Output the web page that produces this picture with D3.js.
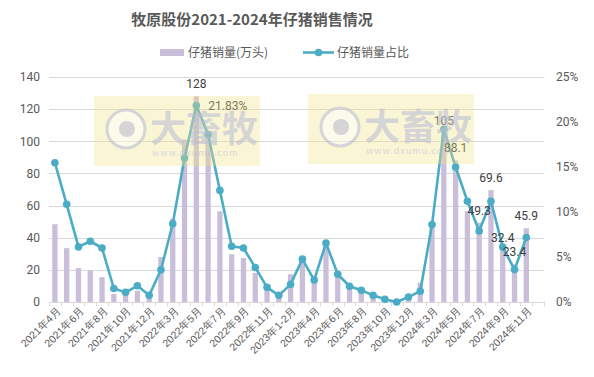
<!DOCTYPE html>
<html lang="zh">
<head>
<meta charset="UTF-8">
<title>牧原股份仔猪销售</title>
<script src="https://d3js.org/d3.v7.min.js"></script>
<style>
    body, html { margin: 0; padding: 0; background: #fff; }
    svg { display: block; font-family: "Noto Sans CJK SC", "Noto Sans", sans-serif; }
</style>
</head>
<body>
<script>
'use strict'

// months (42 slots, the last one has no data)
const months = ['2021年4月','2021年5月','2021年6月','2021年7月','2021年8月','2021年9月','2021年10月','2021年11月','2021年12月',
    '2022年1-2月','2022年3月','2022年4月','2022年5月','2022年6月','2022年7月','2022年8月','2022年9月','2022年10月','2022年11月','2022年12月',
    '2023年1-2月','2023年3月','2023年4月','2023年5月','2023年6月','2023年7月','2023年8月','2023年9月','2023年10月','2023年11月','2023年12月',
    '2024年1-2月','2024年3月','2024年4月','2024年5月','2024年6月','2024年7月','2024年8月','2024年9月','2024年10月','2024年11月','2024年12月']

// 仔猪销量 (万头)
const volume = [48.4, 33.5, 21.1, 19.8, 15.5, 5.0, 4.5, 7.0, 2.5,
    28.0, 51.8, 101, 128, 103, 56.5, 29.7, 27.4, 18.1, 9.2, 3.5,
    17.3, 24.1, 13.8, 34.4, 16.5, 9.2, 6.5, 3.4, 1.2, 0.6, 1.5,
    12.0, 48.3, 105, 88.1, 56.5, 49.3, 69.6, 32.4, 23.4, 45.9, null]

// 仔猪销量占比 (%)
const share = [15.47, 10.85, 6.12, 6.75, 6.0, 1.5, 1.07, 1.8, 0.74,
    3.58, 8.7, 16.0, 21.83, 18.6, 12.4, 6.2, 6.0, 3.84, 1.63, 0.74,
    1.96, 4.76, 2.44, 6.55, 3.08, 1.75, 1.3, 0.74, 0.3, 0.0, 0.55,
    1.2, 8.6, 19.2, 15.0, 11.2, 7.9, 11.2, 6.1, 3.6, 7.16, null]

const volumeLabels = {12: '128', 33: '105', 34: '88.1', 36: '49.3', 37: '69.6', 38: '32.4', 39: '23.4', 40: '45.9'}
const shareLabels = {12: '21.83%'}

const leftTicks = [0, 20, 40, 60, 80, 100, 120, 140]
const rightTicks = [0, 5, 10, 15, 20, 25]

const W = 594, H = 377
const margin = {top: 77, right: 50, bottom: 75, left: 49}
const textColor = '#595959'
const barColor = '#C9BFDA'
const lineColor = '#4BACC6'

const svg = d3.select('body').append('svg')
    .attr('width', W)
    .attr('height', H)

const x = d3.scaleBand()
    .domain(months)
    .range([margin.left, W - margin.right])
    .padding(0)

const y = d3.scaleLinear().domain([0, 140]).range([H - margin.bottom, margin.top])
const y2 = d3.scaleLinear().domain([0, 25]).range([H - margin.bottom, margin.top])

// gridlines
svg.append('g')
    .selectAll('line')
    .data(leftTicks.slice(1))
    .enter()
    .append('line')
    .attr('x1', margin.left)
    .attr('x2', W - margin.right)
    .attr('y1', d => Math.round(y(d)) + 0.5)
    .attr('y2', d => Math.round(y(d)) + 0.5)
    .attr('stroke', '#D9D9D9')

// left axis
const yAxis = d3.axisLeft(y).tickValues(leftTicks).tickSize(0).tickPadding(9)
const gy = svg.append('g').attr('transform', `translate(${margin.left},0)`).call(yAxis)
gy.select('.domain').remove()
gy.selectAll('text').attr('fill', textColor).style('font-size', '12px').style('font-family', 'Roboto, "Noto Sans", sans-serif')

// right axis
const y2Axis = d3.axisRight(y2).tickValues(rightTicks).tickSize(0).tickPadding(12).tickFormat(d => d + '%')
const gy2 = svg.append('g').attr('transform', `translate(${W - margin.right},0)`).call(y2Axis)
gy2.select('.domain').remove()
gy2.selectAll('text').attr('fill', textColor).style('font-size', '12px').style('font-family', 'Roboto, "Noto Sans", sans-serif')

// bars
const barW = x.bandwidth() * 0.45
svg.append('g')
    .selectAll('rect')
    .data(months.map((m, i) => ({m, v: volume[i]})).filter(d => d.v !== null))
    .enter()
    .append('rect')
    .attr('x', d => x(d.m) + (x.bandwidth() - barW) / 2)
    .attr('y', d => y(d.v))
    .attr('width', barW)
    .attr('height', d => y(0) - y(d.v))
    .attr('fill', barColor)

// x axis
const xAxis = d3.axisBottom(x).tickSize(0).tickFormat((d, i) => i % 2 === 0 ? d : '')
const gx = svg.append('g').attr('transform', `translate(0,${y(0)})`).call(xAxis)
gx.select('.domain').attr('stroke', '#D9D9D9')
gx.selectAll('text')
    .attr('fill', textColor)
    .style('font-size', '10.5px')
    .attr('text-anchor', 'end')
    .attr('transform', 'translate(4,7) rotate(-45)')
    .attr('dy', '0.35em')
    .attr('y', 0)
// boundary ticks
svg.append('g')
    .selectAll('line')
    .data(d3.range(months.length + 1))
    .enter()
    .append('line')
    .attr('x1', i => Math.round(margin.left + i * x.bandwidth()) + 0.5)
    .attr('x2', i => Math.round(margin.left + i * x.bandwidth()) + 0.5)
    .attr('y1', y(0))
    .attr('y2', y(0) + 4)
    .attr('stroke', '#D9D9D9')

// line
const pts = months.map((m, i) => ({m, v: share[i]})).filter(d => d.v !== null)
const line = d3.line()
    .x(d => x(d.m) + x.bandwidth() / 2)
    .y(d => y2(d.v))

svg.append('path')
    .datum(pts)
    .attr('d', line)
    .attr('fill', 'none')
    .attr('stroke', lineColor)
    .attr('stroke-width', 2.6)
    .attr('stroke-linejoin', 'round')

svg.append('g')
    .selectAll('circle')
    .data(pts)
    .enter()
    .append('circle')
    .attr('cx', d => x(d.m) + x.bandwidth() / 2)
    .attr('cy', d => y2(d.v))
    .attr('r', 3.8)
    .attr('fill', lineColor)

// data labels
svg.append('g')
    .selectAll('text')
    .data(Object.keys(volumeLabels).map(Number))
    .enter()
    .append('text')
    .attr('x', i => x(months[i]) + x.bandwidth() / 2)
    .attr('y', i => y(volume[i]) - 8)
    .attr('text-anchor', 'middle')
    .attr('fill', '#404040')
    .style('font-size', '12px')
    .style('font-family', 'Roboto, "Noto Sans", sans-serif')
    .text(i => volumeLabels[i])

svg.append('g')
    .selectAll('text')
    .data(Object.keys(shareLabels).map(Number))
    .enter()
    .append('text')
    .attr('x', i => x(months[i]) + x.bandwidth() / 2 + 12)
    .attr('y', i => y2(share[i]) + 4)
    .attr('fill', '#404040')
    .style('font-size', '12px')
    .style('font-family', 'Roboto, "Noto Sans", sans-serif')
    .text(i => shareLabels[i])

// watermarks (semi-transparent, drawn over the chart)
const marks = [{x0: 94, y0: 96, w: 166, h: 70}, {x0: 308, y0: 94, w: 166, h: 70}]
marks.forEach(m => {
    const g = svg.append('g').attr('opacity', 0.7)
    g.append('rect').attr('x', m.x0).attr('y', m.y0).attr('width', m.w).attr('height', m.h)
        .attr('fill', '#F2E38A').attr('opacity', 0.5)
    g.append('circle').attr('cx', m.x0 + 32).attr('cy', m.y0 + 33).attr('r', 19)
        .attr('fill', '#fff').attr('fill-opacity', 0.5).attr('stroke', '#C4C4C4').attr('stroke-width', 3)
    g.append('circle').attr('cx', m.x0 + 33).attr('cy', m.y0 + 33).attr('r', 8).attr('fill', '#C4C4C4')
    g.append('text').attr('x', m.x0 + 56).attr('y', m.y0 + 46)
        .attr('fill', '#C4C4C4').style('font-size', '36px').style('font-weight', 'bold').text('大畜牧')
    g.append('text').attr('x', m.x0 + 58).attr('y', m.y0 + 60)
        .attr('fill', '#C8C8C8').style('font-size', '9px').style('letter-spacing', '1px').text('www.dxumu.com')
})

// title
svg.append('text')
    .attr('x', 252)
    .attr('y', 25)
    .attr('text-anchor', 'middle')
    .attr('fill', textColor)
    .style('font-size', '15px')
    .style('font-weight', 'bold')
    .text('牧原股份2021-2024年仔猪销售情况')

// legend
const lg = svg.append('g').style('font-size', '12px')
lg.append('rect').attr('x', 160).attr('y', 49).attr('width', 24).attr('height', 7).attr('fill', barColor)
lg.append('text').attr('x', 188).attr('y', 57).attr('fill', textColor).text('仔猪销量(万头)')
lg.append('line').attr('x1', 303).attr('x2', 334).attr('y1', 52.5).attr('y2', 52.5)
    .attr('stroke', lineColor).attr('stroke-width', 2.6)
lg.append('circle').attr('cx', 318.5).attr('cy', 52.5).attr('r', 3.8).attr('fill', lineColor)
lg.append('text').attr('x', 337).attr('y', 57).attr('fill', textColor).text('仔猪销量占比')
</script>
</body>
</html>
